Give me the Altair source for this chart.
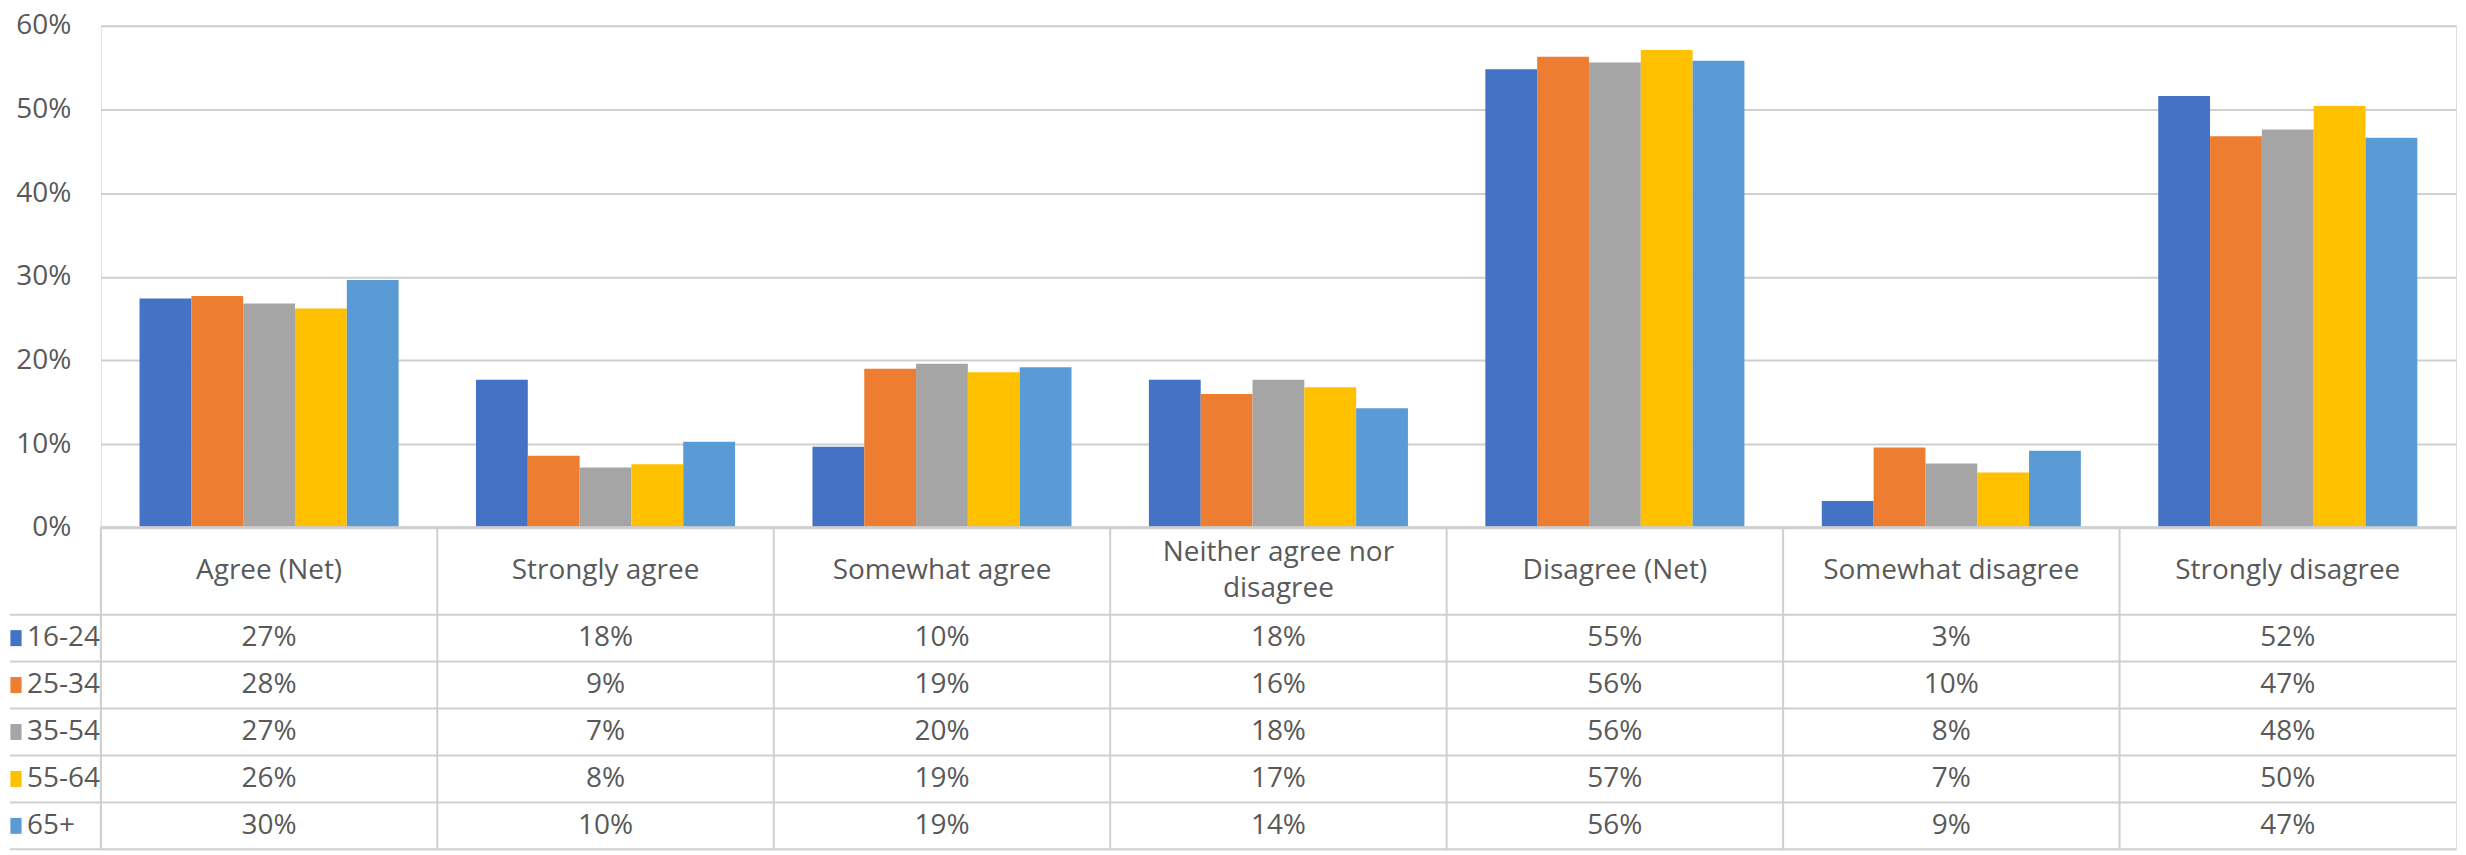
import altair as alt
import pandas as pd

categories = ["Agree (Net)", "Strongly agree", "Somewhat agree", "Neither agree nor disagree",
              "Disagree (Net)", "Somewhat disagree", "Strongly disagree"]
header_line1 = ["Agree (Net)", "Strongly agree", "Somewhat agree", "Neither agree nor",
                "Disagree (Net)", "Somewhat disagree", "Strongly disagree"]
header_line2 = ["", "", "", "disagree", "", "", ""]
groups = ["16-24", "25-34", "35-54", "55-64", "65+"]
colors = ["#4472C4", "#ED7D31", "#A5A5A5", "#FFC000", "#5B9BD5"]

v_16_24 = [0.274, 0.177, 0.097, 0.177, 0.548, 0.032, 0.516]
v_25_34 = [0.277, 0.086, 0.190, 0.160, 0.563, 0.096, 0.468]
v_35_54 = [0.268, 0.072, 0.196, 0.177, 0.556, 0.077, 0.476]
v_55_64 = [0.262, 0.076, 0.186, 0.168, 0.571, 0.066, 0.504]
v_65p = [0.296, 0.103, 0.192, 0.143, 0.558, 0.092, 0.466]
series = [v_16_24, v_25_34, v_35_54, v_55_64, v_65p]

rows = []
for g, vals in zip(groups, series):
    for c, v in zip(categories, vals):
        rows.append({"cat": c, "group": g, "value": v})
df = pd.DataFrame(rows)
hdr = pd.DataFrame({"cat": categories, "l1": header_line1, "l2": header_line2})
grp = pd.DataFrame({"group": groups})

FONT = "Open Sans"
TXT = "#595959"
LINE = "#cfcfcf"
FS = 28
W = 2359
H_TOP = 503
HEAD_H = 87
ROW_H = 47
LH = 36
H_BOT = HEAD_H + ROW_H * len(groups)

top = alt.Chart(df).mark_bar().encode(
    x=alt.X("cat:N", sort=categories,
            scale=alt.Scale(domain=categories, paddingInner=0.23, paddingOuter=0.115),
            axis=None),
    xOffset=alt.XOffset("group:N", sort=groups,
                        scale=alt.Scale(domain=groups, paddingInner=0, paddingOuter=0)),
    y=alt.Y("value:Q", scale=alt.Scale(domain=[0, 0.6], nice=False),
            axis=alt.Axis(format=".0%", values=[0, 0.1, 0.2, 0.3, 0.4, 0.5, 0.6],
                          grid=True, gridColor=LINE, gridWidth=2, domain=False, ticks=False,
                          labelFontSize=FS, labelColor=TXT, labelFont=FONT, labelPadding=30,
                          title=None)),
    color=alt.Color("group:N", scale=alt.Scale(domain=groups, range=colors), legend=None),
).properties(width=W, height=H_TOP)

xb = alt.X("cat:N", sort=categories,
           scale=alt.Scale(domain=categories, paddingInner=0, paddingOuter=0), axis=None)
yrow = alt.Y("group:N", sort=groups,
             scale=alt.Scale(type="point", domain=groups,
                             range=[HEAD_H + ROW_H / 2, H_BOT - ROW_H / 2], padding=0),
             axis=None)

hbase = alt.Chart(hdr).transform_calculate(
    y1=f"datum.l2 ? {HEAD_H / 2 - LH / 2} : {HEAD_H / 2}",
    y2=f"{HEAD_H / 2 + LH / 2}",
)
header1 = hbase.mark_text(fontSize=FS, color=TXT, font=FONT, baseline="middle").encode(
    x=xb, y=alt.Y("y1:Q", scale=None), text="l1:N")
header2 = hbase.transform_filter("datum.l2 != ''").mark_text(
    fontSize=FS, color=TXT, font=FONT, baseline="middle").encode(
    x=xb, y=alt.Y("y2:Q", scale=None), text="l2:N")

cells = alt.Chart(df).transform_calculate(
    label="format(datum.value, '.0%')"
).mark_text(fontSize=FS, color=TXT, font=FONT, baseline="middle").encode(
    x=xb, y=yrow, text="label:N")

vlines = alt.Chart(hdr).mark_rule(color=LINE, strokeWidth=2).encode(
    x=alt.X("cat:N", sort=categories, bandPosition=0,
            scale=alt.Scale(domain=categories, paddingInner=0, paddingOuter=0), axis=None),
    y=alt.value(0), y2=alt.value(H_BOT))

top_border = alt.Chart(hdr).mark_rule(color=LINE, strokeWidth=2).encode(
    x=alt.value(0), x2=alt.value(W), y=alt.value(0))

hl = pd.DataFrame({"y": [HEAD_H + ROW_H * i for i in range(len(groups) + 1)]})
hlines = alt.Chart(hl).mark_rule(color=LINE, strokeWidth=2).encode(
    x=alt.value(-91), x2=alt.value(W), y=alt.Y("y:Q", scale=None))

swatch = alt.Chart(grp).mark_point(
    shape="M-0.7,-1L0.7,-1L0.7,1L-0.7,1Z", filled=True, opacity=1, size=256
).encode(
    x=alt.value(-85), y=yrow,
    color=alt.Color("group:N", scale=alt.Scale(domain=groups, range=colors), legend=None))

leg_text = alt.Chart(grp).mark_text(fontSize=FS, color=TXT, font=FONT, align="left",
                                    baseline="middle").encode(
    x=alt.value(-74), y=yrow, text="group:N")

bottom = alt.layer(vlines, top_border, hlines, header1, header2, cells, swatch,
                   leg_text).properties(width=W, height=H_BOT)

chart = alt.vconcat(top, bottom, spacing=0, bounds="flush").configure_view(
    stroke=None).configure(font=FONT, padding={"top": 2, "left": 0, "right": 0, "bottom": 0})

chart.save("out.html", embed_options={"renderer": "svg", "actions": False})
